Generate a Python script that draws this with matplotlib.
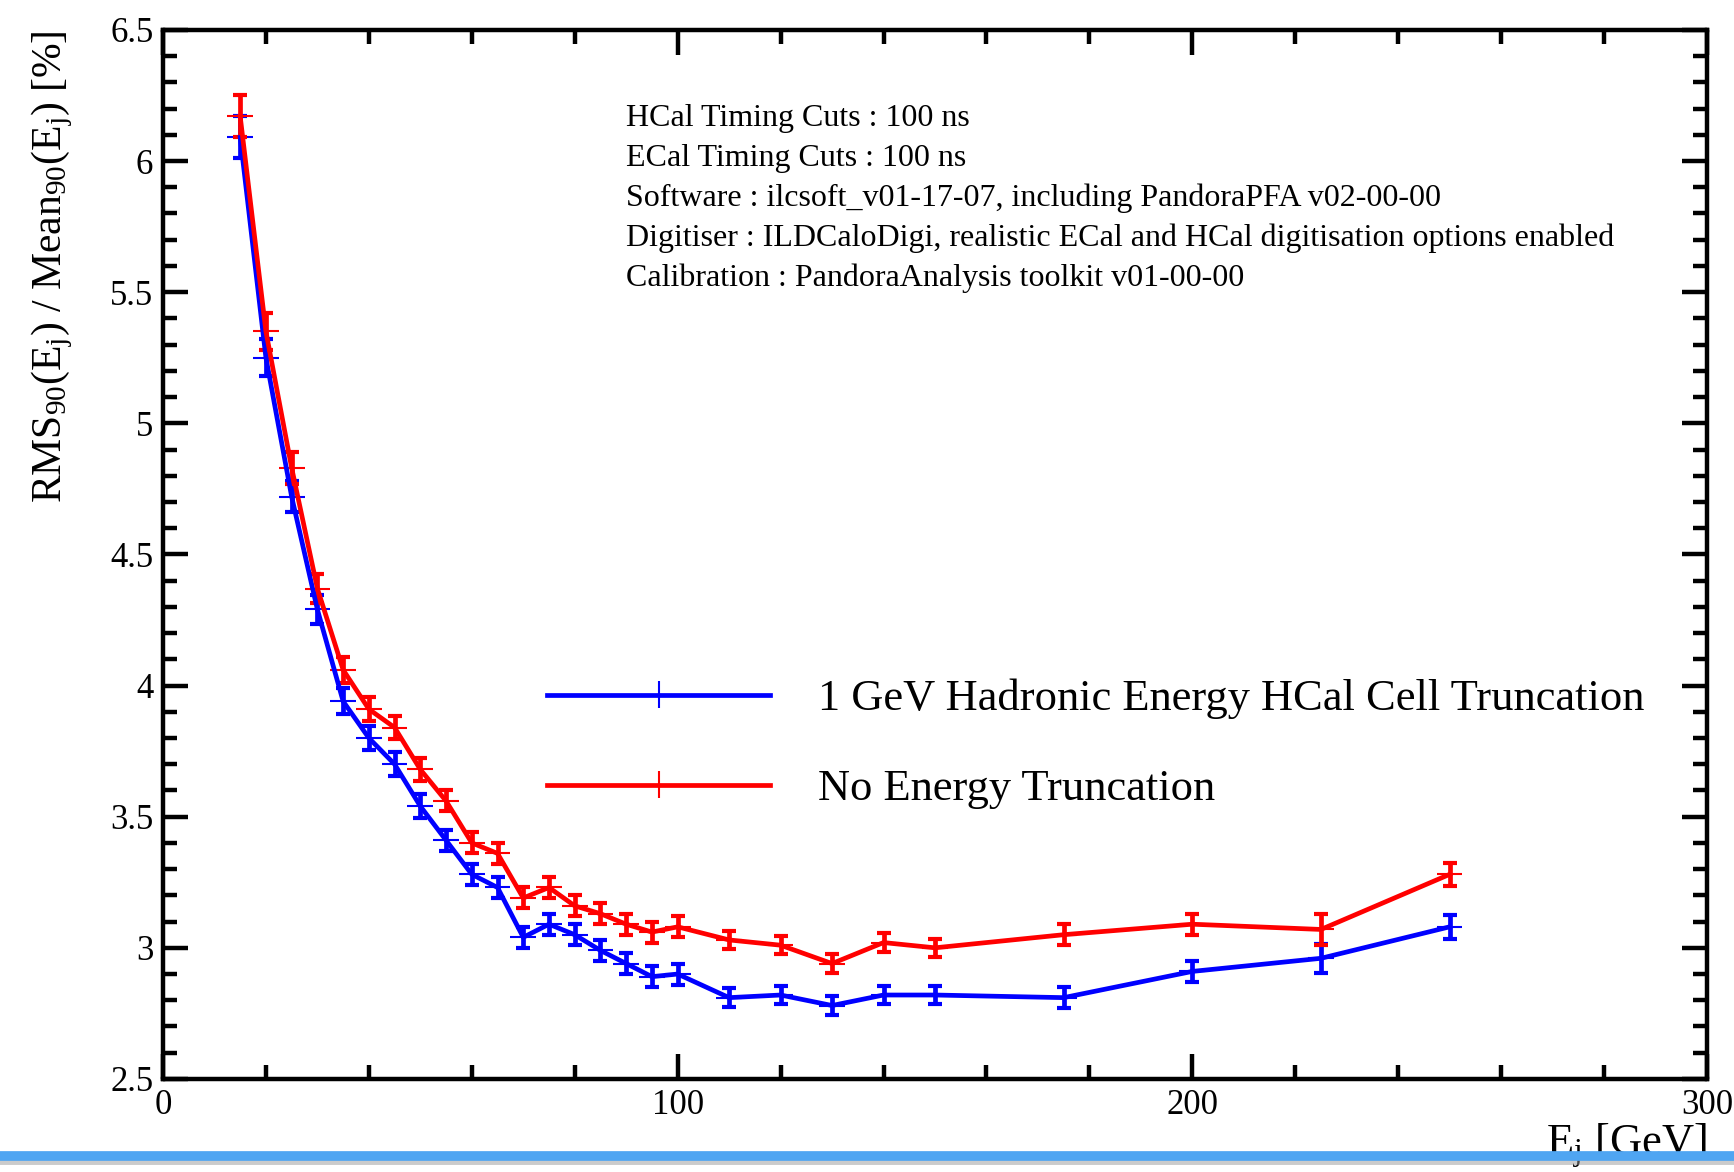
import matplotlib.pyplot as plt
from matplotlib.ticker import MultipleLocator, FormatStrFormatter
from matplotlib.legend_handler import HandlerErrorbar
from matplotlib.lines import Line2D

plt.rcParams['font.family'] = ['Liberation Serif', 'DejaVu Serif']
plt.rcParams['mathtext.fontset'] = 'custom'
plt.rcParams['mathtext.rm'] = 'Liberation Serif'
plt.rcParams['mathtext.it'] = 'Liberation Serif:italic'

# jet energies [GeV]
energy = [15, 20, 25, 30, 35, 40, 45, 50, 55, 60, 65, 70, 75, 80, 85, 90, 95, 100,
          110, 120, 130, 140, 150, 175, 200, 225, 250]
energy_err = 2.5

# 1 GeV hadronic energy HCal cell truncation
trunc_res = [6.09, 5.25, 4.72, 4.29, 3.94, 3.80, 3.70, 3.54, 3.41, 3.28, 3.23, 3.04, 3.09,
             3.05, 2.99, 2.94, 2.89, 2.90, 2.81, 2.82, 2.78, 2.82, 2.82, 2.81, 2.91, 2.96, 3.08]
trunc_err = [0.08, 0.07, 0.06, 0.055, 0.05, 0.045, 0.045, 0.045, 0.04, 0.04, 0.04, 0.04, 0.04,
             0.04, 0.04, 0.04, 0.04, 0.04, 0.035, 0.035, 0.035, 0.035, 0.035, 0.04, 0.04, 0.055, 0.045]

# no energy truncation
notrunc_res = [6.17, 5.35, 4.83, 4.37, 4.06, 3.91, 3.84, 3.68, 3.56, 3.40, 3.36, 3.19, 3.23,
               3.16, 3.13, 3.09, 3.06, 3.08, 3.03, 3.01, 2.94, 3.02, 3.00, 3.05, 3.09, 3.07, 3.28]
notrunc_err = [0.08, 0.07, 0.06, 0.055, 0.05, 0.045, 0.045, 0.045, 0.04, 0.04, 0.04, 0.04, 0.04,
               0.04, 0.04, 0.04, 0.04, 0.04, 0.035, 0.035, 0.035, 0.035, 0.035, 0.04, 0.04, 0.06, 0.045]

info_lines = [
    'HCal Timing Cuts : 100 ns',
    'ECal Timing Cuts : 100 ns',
    'Software : ilcsoft_v01-17-07, including PandoraPFA v02-00-00',
    'Digitiser : ILDCaloDigi, realistic ECal and HCal digitisation options enabled',
    'Calibration : PandoraAnalysis toolkit v01-00-00',
]

fig = plt.figure(figsize=(17.34, 11.72), dpi=100)
ax = fig.add_axes([0.094, 0.0794, 0.8904, 0.8951])

series = [
    (trunc_res, trunc_err, 'blue', '1 GeV Hadronic Energy HCal Cell Truncation'),
    (notrunc_res, notrunc_err, 'red', 'No Energy Truncation'),
]
handles = []
for res, err, col, lab in series:
    h = ax.errorbar(energy, res, yerr=err, xerr=energy_err, color=col, lw=3.4,
                    elinewidth=1.5, capsize=0, label=lab)
    ax.errorbar(energy, res, yerr=err, fmt='none', ecolor=col, elinewidth=3.4,
                capsize=5, capthick=3)
    handles.append(h)

ax.set_xlim(0, 300)
ax.set_ylim(2.5, 6.5)
ax.xaxis.set_major_locator(MultipleLocator(100))
ax.xaxis.set_minor_locator(MultipleLocator(20))
ax.yaxis.set_major_locator(MultipleLocator(0.5))
ax.yaxis.set_minor_locator(MultipleLocator(0.1))
ax.yaxis.set_major_formatter(FormatStrFormatter('%g'))
ax.tick_params(which='both', direction='in', top=True, right=True, width=3.2,
               labelsize=25, pad=7)
ax.tick_params(which='major', length=18)
ax.tick_params(which='minor', length=10)
for sp in ax.spines.values():
    sp.set_linewidth(3.2)

ax.set_ylabel(r'RMS$_{90}$(E$_{\rm j}$) / Mean$_{90}$(E$_{\rm j}$) [%]', fontsize=30, loc='top')
ax.yaxis.set_label_coords(-0.057, 1.0)
ax.set_xlabel(r'E$_{\rm j}$ [GeV]', fontsize=32, loc='right')
ax.xaxis.set_label_coords(1.0, -0.04)

for i, line in enumerate(info_lines):
    ax.text(0.300, 0.9085 - i * 0.0381, line, transform=ax.transAxes,
            fontsize=23, va='baseline', ha='left')

ax.legend(handles=handles, loc='upper left', bbox_to_anchor=(0.249, 0.3815),
          frameon=False, fontsize=32, handlelength=5.0, handletextpad=1.08,
          labelspacing=1.12, borderpad=0, borderaxespad=0,
          handler_map={type(handles[0]): HandlerErrorbar(xerr_size=0.3, yerr_size=0.3)})

# blue pen stroke across the bottom of the scan
fig.add_artist(Line2D([0, 1], [0.009, 0.009], transform=fig.transFigure,
                      color='0.6', lw=5, alpha=0.5, zorder=10))
fig.add_artist(Line2D([0, 1], [0.0135, 0.0135], transform=fig.transFigure,
                      color='#4fa5f2', lw=7, zorder=11))

fig.savefig('out.png', dpi=100)
